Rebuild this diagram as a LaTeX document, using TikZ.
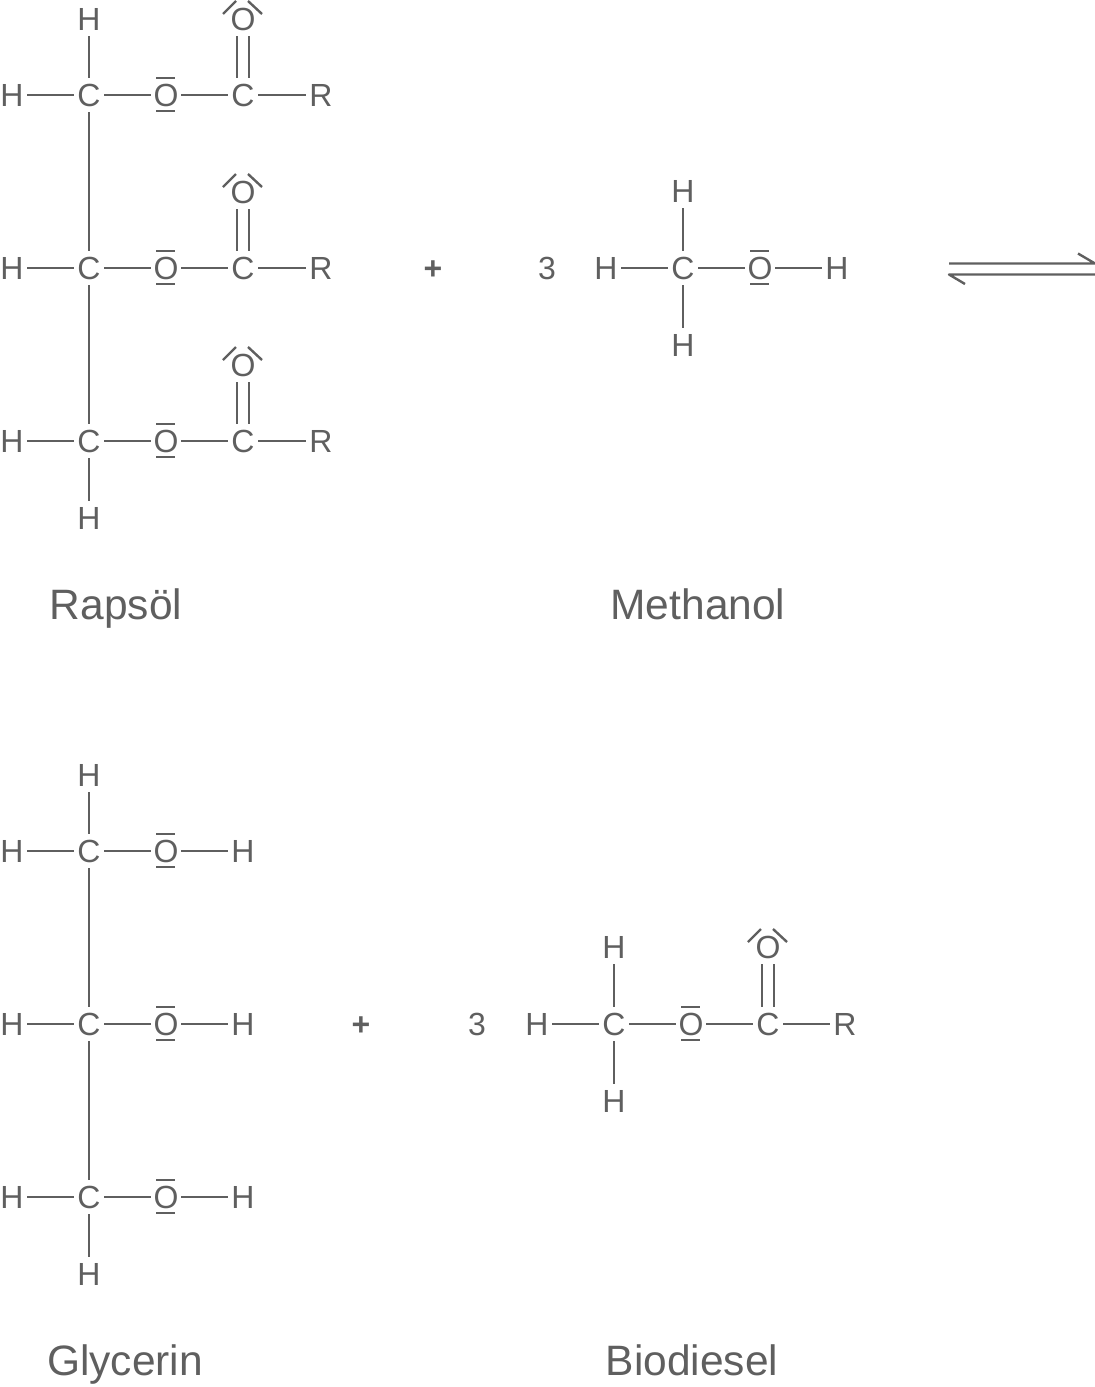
\documentclass[tikz,border=0pt]{standalone}
\usepackage{fontspec}
\setmainfont{Liberation Sans}
\definecolor{ink}{HTML}{5F5F5F}
\tikzset{
    atom/.style={inner sep=0,minimum width=30,minimum height=34,text height=23,text depth=0,font=\fontsize{32}{32}\selectfont,text=ink},
    sign/.style={atom,font=\fontsize{32}{32}\selectfont\bfseries},
    caption/.style={inner sep=0,text height=33,text depth=3,font=\fontsize{42.5}{42.5}\selectfont,text=ink},
    bond/.style={ink,line width=2.4,line join=round}
}
% Non-bonding pairs above and below a bridging oxygen
\newcommand\bridgepairs[1]{
    \draw[bond] ([shift={(-10,-17)}]#1.center) -- ([shift={(9,-17)}]#1.center);
    \draw[bond] ([shift={(-10,16)}]#1.center) -- ([shift={(9,16)}]#1.center);
}
% Non-bonding pairs on a carbonyl oxygen
\newcommand\carbonylpairs[1]{
    \draw[bond] ([shift={(-20,-5)}]#1.center) -- ([shift={(-7,-18)}]#1.center);
    \draw[bond] ([shift={(5,-18)}]#1.center) -- ([shift={(19,-5)}]#1.center);
}
% Double bond between two atoms
\newcommand\doublebond[2]{
    \draw[bond] ([xshift=-6]#1.south) -- ([xshift=-6]#2.north);
    \draw[bond] ([xshift=6]#1.south) -- ([xshift=6]#2.north);
}
\begin{document}
\begin{tikzpicture}[x=1pt,y=-1pt]
    \useasboundingbox (0,0) rectangle (1095,1387);
    % Oil
    \foreach \i/\row in {1/95,2/268,3/441} {
        \node[atom] (oilh\i) at (12,\row) {H};
        \node[atom] (oilc\i) at (89,\row) {C};
        \node[atom] (oilo\i) at (166,\row) {O};
        \node[atom] (oild\i) at (243,\row) {C};
        \node[atom] (oilr\i) at (321,\row) {R};
        \node[atom] (oilk\i) at (243,\row-76) {O};
        \draw[bond] (oilh\i) -- (oilc\i);
        \draw[bond] (oilc\i) -- (oilo\i);
        \draw[bond] (oilo\i) -- (oild\i);
        \draw[bond] (oild\i) -- (oilr\i);
        \doublebond{oilk\i}{oild\i}
        \bridgepairs{oilo\i}
        \carbonylpairs{oilk\i}
    }
    \node[atom] (oiltop) at (89,19) {H};
    \node[atom] (oilbot) at (89,518) {H};
    \draw[bond] (oiltop) -- (oilc1);
    \draw[bond] (oilc1) -- (oilc2);
    \draw[bond] (oilc2) -- (oilc3);
    \draw[bond] (oilc3) -- (oilbot);
    \node[caption] (oilname) at (116,604) {Rapsöl};
    % Methanol
    \node[sign] (plusa) at (433,268) {+};
    \node[atom] (numa) at (547,268) {3};
    \node[atom] (meha) at (606,268) {H};
    \node[atom] (mec) at (683,268) {C};
    \node[atom] (meo) at (760,268) {O};
    \node[atom] (mehb) at (837,268) {H};
    \node[atom] (metop) at (683,191) {H};
    \node[atom] (mebot) at (683,345) {H};
    \draw[bond] (meha) -- (mec);
    \draw[bond] (mec) -- (meo);
    \draw[bond] (meo) -- (mehb);
    \draw[bond] (metop) -- (mec);
    \draw[bond] (mec) -- (mebot);
    \bridgepairs{meo}
    \node[caption] (mename) at (698,604) {Methanol};
    % Equilibrium arrows
    \coordinate (eqa) at (949,263.5);
    \coordinate (eqb) at (1095,263.5);
    \coordinate (eqc) at (1078,253.5);
    \coordinate (eqd) at (1095,274.5);
    \coordinate (eqe) at (949,274.5);
    \coordinate (eqf) at (965,284);
    \draw[bond] (eqa) -- (eqb) -- (eqc);
    \draw[bond] (eqd) -- (eqe) -- (eqf);
    % Glycerol
    \foreach \i/\row in {1/851,2/1024,3/1197} {
        \node[atom] (glyh\i) at (12,\row) {H};
        \node[atom] (glyc\i) at (89,\row) {C};
        \node[atom] (glyo\i) at (166,\row) {O};
        \node[atom] (glyr\i) at (243,\row) {H};
        \draw[bond] (glyh\i) -- (glyc\i);
        \draw[bond] (glyc\i) -- (glyo\i);
        \draw[bond] (glyo\i) -- (glyr\i);
        \bridgepairs{glyo\i}
    }
    \node[atom] (glytop) at (89,775) {H};
    \node[atom] (glybot) at (89,1274) {H};
    \draw[bond] (glytop) -- (glyc1);
    \draw[bond] (glyc1) -- (glyc2);
    \draw[bond] (glyc2) -- (glyc3);
    \draw[bond] (glyc3) -- (glybot);
    \node[caption] (glyname) at (125,1360) {Glycerin};
    % Ester
    \node[sign] (plusb) at (361,1024) {+};
    \node[atom] (numb) at (477,1024) {3};
    \node[atom] (esh) at (537,1024) {H};
    \node[atom] (esc) at (614,1024) {C};
    \node[atom] (eso) at (691,1024) {O};
    \node[atom] (esd) at (768,1024) {C};
    \node[atom] (esr) at (845,1024) {R};
    \node[atom] (estop) at (614,947) {H};
    \node[atom] (esbot) at (614,1101) {H};
    \node[atom] (esk) at (768,947) {O};
    \draw[bond] (esh) -- (esc);
    \draw[bond] (esc) -- (eso);
    \draw[bond] (eso) -- (esd);
    \draw[bond] (esd) -- (esr);
    \draw[bond] (estop) -- (esc);
    \draw[bond] (esc) -- (esbot);
    \doublebond{esk}{esd}
    \bridgepairs{eso}
    \carbonylpairs{esk}
    \node[caption] (esname) at (692,1360) {Biodiesel};
\end{tikzpicture}
\end{document}
